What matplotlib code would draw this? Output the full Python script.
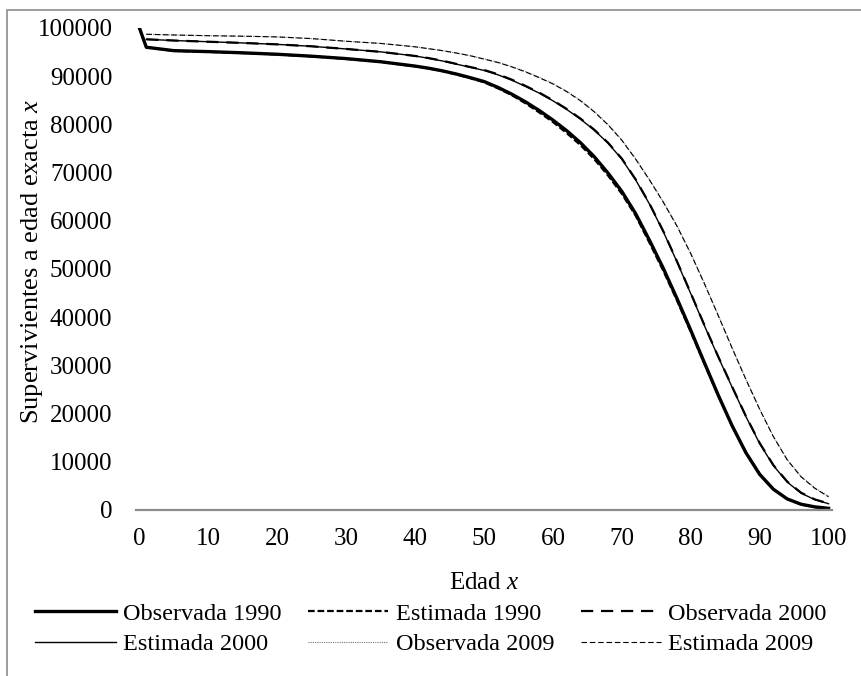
import matplotlib.pyplot as plt
import matplotlib.patches as mpatches
import numpy as np

plt.rcParams['font.family'] = ['Liberation Serif', 'DejaVu Serif']
plt.rcParams['mathtext.fontset'] = 'custom'
plt.rcParams['mathtext.it'] = 'Liberation Serif:italic'
plt.rcParams['mathtext.rm'] = 'Liberation Serif'

# edades
edad = [0, 1, 5, 10, 15, 20, 25, 30, 35, 40, 42, 44, 46, 48, 50, 52, 54, 56, 58, 60,
        62, 64, 66, 68, 70, 72, 74, 76, 78, 80, 82, 84, 86, 88, 90, 92, 94, 96, 98, 100]
edad_b = edad[1:]

obs_1990 = [100000, 96000, 95300, 95100, 94850, 94550, 94150, 93650, 93000, 92100,
            91650, 91100, 90450, 89700, 88900, 87700, 86300, 84700, 82900, 80900,
            78700, 76200, 73300, 69900, 66100, 61500, 56000, 50200, 43900, 37300,
            30500, 23800, 17500, 11900, 7400, 4300, 2300, 1200, 650, 350]
est_1990 = [100000, 96000, 95250, 95050, 94800, 94500, 94100, 93600, 92950, 92050,
            91600, 91050, 90350, 89600, 88750, 87500, 86100, 84400, 82500, 80500,
            78200, 75700, 72800, 69400, 65600, 61100, 55500, 49700, 43500, 37000,
            30300, 23700, 17500, 12000, 7500, 4300, 2300, 1150, 600, 300]
obs_2000 = [97650, 97400, 97150, 96900, 96600, 96200, 95650, 95050, 94200,
            93750, 93200, 92550, 91900, 91300, 90400, 89300, 88000, 86600, 85000,
            83200, 81200, 78900, 76200, 72900, 68600, 63600, 57900, 51600, 45000,
            38300, 31800, 25600, 19500, 13900, 9300, 5900, 3600, 2200, 1350]
est_2000 = [97650, 97400, 97150, 96900, 96600, 96200, 95650, 95050, 94200,
            93700, 93150, 92500, 91850, 91200, 90300, 89200, 87900, 86500, 84900,
            83100, 81100, 78800, 76100, 72800, 68500, 63500, 57800, 51500, 44900,
            38200, 31700, 25500, 19400, 13800, 9200, 5800, 3500, 2150, 1300]
obs_2009 = [98700, 98550, 98400, 98300, 98150, 97800, 97250, 96800, 96100,
            95700, 95300, 94800, 94250, 93600, 92900, 92000, 91000, 89800, 88500,
            86900, 85000, 82700, 80000, 76800, 72900, 68600, 64000, 59000, 53300,
            47000, 40400, 33700, 27200, 21000, 15300, 10500, 7000, 4600, 2800]
est_2009 = [98700, 98550, 98400, 98300, 98150, 97800, 97250, 96800, 96100,
            95700, 95300, 94800, 94250, 93550, 92850, 91950, 90900, 89700, 88400,
            86800, 84900, 82600, 79900, 76700, 72800, 68500, 63900, 58900, 53200,
            46900, 40300, 33600, 27100, 20900, 15200, 10400, 6900, 4500, 2750]

fig = plt.figure(figsize=(8.62, 6.76), dpi=100)
ax = fig.add_axes([136/862, 1-510/676, (832-136)/862, (510-28)/676])

l1, = ax.plot(edad, obs_1990, color='black', lw=2.4, label='Observada 1990')
l2, = ax.plot(edad, est_1990, color='black', lw=1.6, ls=(0, (3, 1.3)), label='Estimada 1990')
l3, = ax.plot(edad_b, obs_2000, color='black', lw=1.6, ls=(0, (5.5, 3.5)), label='Observada 2000')
l4, = ax.plot(edad_b, est_2000, color='black', lw=1.0, label='Estimada 2000')
l5, = ax.plot(edad_b, obs_2009, color='#777777', lw=0.8, ls=(0, (1, 1)), label='Observada 2009')
l6, = ax.plot(edad_b, est_2009, color='black', lw=0.8, ls=(0, (5, 2.5)), label='Estimada 2009')

ax.set_xlim(-0.5, 100.5)
ax.set_ylim(0, 100000)
ax.set_xticks(np.arange(0, 101, 10))
ax.set_yticks(np.arange(0, 100001, 10000))
ax.tick_params(length=0, labelsize=18)
ax.tick_params(axis='y', pad=17)
ax.tick_params(axis='x', pad=13)
for s in ['top', 'right', 'left']:
    ax.spines[s].set_visible(False)
ax.spines['bottom'].set_color('#8c8c8c')
ax.spines['bottom'].set_linewidth(1.6)

ax.set_ylabel(r'Supervivientes a edad exacta $x$', fontsize=19)
ax.yaxis.set_label_coords(-(136 - 45) / 696, (510 - 261) / 482)
fig.text(484/862, 1-583/676, r'Edad $x$', fontsize=18, ha='center', va='center')

handles = [l1, l4, l2, l5, l3, l6]
fig.legend(handles=handles, labels=[h.get_label() for h in handles], ncol=3,
           loc='upper center', bbox_to_anchor=(0.5, 1-593/676), frameon=False,
           fontsize=17.5, handlelength=3.3, handletextpad=0.3, columnspacing=1.1,
           labelspacing=0.35, borderaxespad=0)

# borde del gráfico
fig.patches.append(mpatches.Rectangle((7/862, -0.2), 1.2, 1.2 - 10/676, transform=fig.transFigure,
                                      fill=False, edgecolor='#8c8c8c', lw=1.2))

fig.savefig('out.png', dpi=100)
